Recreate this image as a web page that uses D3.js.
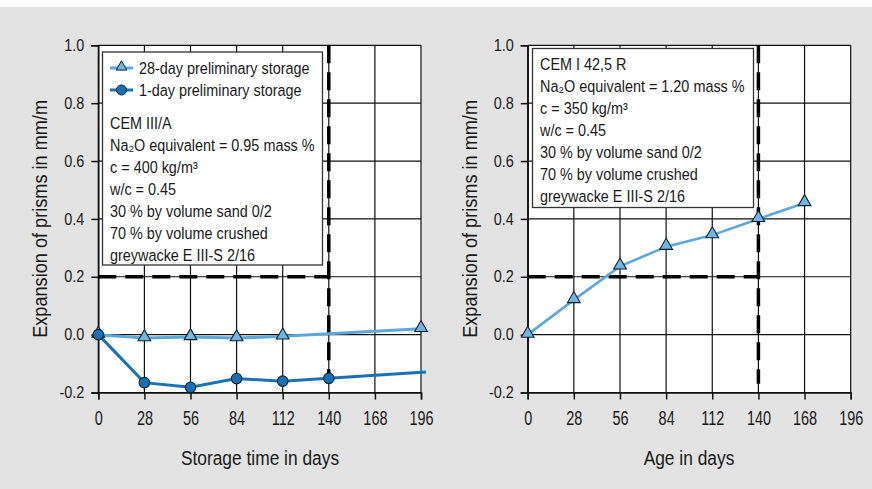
<!DOCTYPE html>
<html>
<head>
<meta charset="utf-8">
<script src="https://cdn.jsdelivr.net/npm/d3@7"></script>
<style>
  html, body { margin: 0; padding: 0; background: #e2e3e2; }
  svg { display: block; }
  text { font-family: "Liberation Sans", Arial, sans-serif; fill: #1a1a1a; }
</style>
</head>
<body>
<svg id="chart" width="872" height="489"></svg>
<script>
// Storage / age in days
const xTicks = [0, 28, 56, 84, 112, 140, 168, 196];
const yTicks = [-0.2, 0.0, 0.2, 0.4, 0.6, 0.8, 1.0];
const yTickLabels = ["-0.2", "0.0", "0.2", "0.4", "0.6", "0.8", "1.0"];

// Left panel: CEM III/A, two preliminary storage regimes
const storage28Days = [0, 28, 56, 84, 112, 196];
const storage28Values = [0.0, -0.012, -0.008, -0.012, -0.006, 0.02];
const storage1Days = [0, 28, 56, 84, 112, 140];
const storage1Values = [0.0, -0.166, -0.182, -0.152, -0.161, -0.151];
const storage1TailDay = 199;
const storage1TailValue = -0.129;
const storage28TailDay = 199;
const storage28TailValue = 0.021;

// Right panel: CEM I 42,5 R
const ageDays = [0, 28, 56, 84, 112, 140, 168];
const ageValues = [0.0, 0.12, 0.236, 0.304, 0.344, 0.40, 0.455];

// Limit value and test duration
const limitValue = 0.2;
const limitDay = 140;

const legendLabels = ["28-day preliminary storage", "1-day preliminary storage"];
const leftNotes = ["CEM III/A", "Na₂O equivalent = 0.95 mass %", "c = 400 kg/m³", "w/c = 0.45",
  "30 % by volume sand 0/2", "70 % by volume crushed", "greywacke E III-S 2/16"];
const rightNotes = ["CEM I 42,5 R", "Na₂O equivalent = 1.20 mass %", "c = 350 kg/m³", "w/c = 0.45",
  "30 % by volume sand 0/2", "70 % by volume crushed", "greywacke E III-S 2/16"];

const yTitle = "Expansion of prisms in mm/m";
const leftXTitle = "Storage time in days";
const rightXTitle = "Age in days";

const colLight = "#5ba8da";
const colDark = "#1a72b6";
const markerStroke = "#10202e";
// horizontal squeeze per label kind, for a condensed look
const squeeze = { xtick: 0.74, ytick: 0.9, note: 0.885, xtitle: 0.89, ytitle: 0.93 };

const svg = d3.select("#chart");
svg.append("rect").attr("x", 0).attr("y", 0).attr("width", 872).attr("height", 489).attr("fill", "#e2e3e2");
svg.append("rect").attr("x", 0).attr("y", 0).attr("width", 872).attr("height", 7).attr("fill", "#ffffff");

const yRange = [392.5, 45.3];

function writeNote(g, x, y, s) {
  g.append("text").attr("class", "note").attr("x", x).attr("y", y)
    .attr("font-size", 16.3).attr("dominant-baseline", "central").text(s);
}

function panel(x0, x1, xTitle, titleX) {
  const x = d3.scaleLinear().domain([0, 196]).range([x0, x1]);
  const y = d3.scaleLinear().domain([-0.2, 1.0]).range(yRange);
  const g = svg.append("g");

  g.append("rect").attr("x", x0).attr("y", yRange[1]).attr("width", x1 - x0).attr("height", yRange[0] - yRange[1])
    .attr("fill", "#ffffff");

  // grid
  g.append("g").selectAll("line").data(xTicks).join("line")
    .attr("x1", d => x(d)).attr("x2", d => x(d)).attr("y1", yRange[0]).attr("y2", yRange[1])
    .attr("stroke", "#111").attr("stroke-width", 1.2);
  g.append("g").selectAll("line").data(yTicks).join("line")
    .attr("y1", d => y(d)).attr("y2", d => y(d)).attr("x1", x0).attr("x2", x1)
    .attr("stroke", "#111").attr("stroke-width", 1.2);

  // axes
  const ax = g.append("g").attr("transform", `translate(0,${yRange[0]})`)
    .call(d3.axisBottom(x).tickValues(xTicks).tickSize(7).tickPadding(12).tickFormat(d3.format("d")));
  ax.select(".domain").attr("stroke", "#111").attr("stroke-width", 1.5);
  ax.selectAll(".tick line").attr("stroke", "#111").attr("stroke-width", 1.5);
  ax.selectAll(".tick text").attr("class", "xtick").attr("font-size", 19.5).attr("font-family", null).attr("fill", "#1a1a1a");

  const ay = g.append("g").attr("transform", `translate(${x0},0)`)
    .call(d3.axisLeft(y).tickValues(yTicks).tickSize(7).tickPadding(7).tickFormat((d, i) => yTickLabels[i]));
  ay.select(".domain").attr("stroke", "#111").attr("stroke-width", 1.5);
  ay.selectAll(".tick line").attr("stroke", "#111").attr("stroke-width", 1.5);
  ay.selectAll(".tick text").attr("class", "ytick").attr("font-size", 16).attr("font-family", null).attr("fill", "#1a1a1a");

  g.append("text").attr("class", "xtitle").attr("x", titleX).attr("y", 465).attr("text-anchor", "middle")
    .attr("font-size", 19.5).text(xTitle);
  g.append("text").attr("class", "ytitle")
    .attr("transform", `translate(${x0 - 58},${(yRange[0] + yRange[1]) / 2}) rotate(-90)`)
    .attr("text-anchor", "middle").attr("dominant-baseline", "central").attr("font-size", 19.5).text(yTitle);

  return { g, x, y };
}

function limits(p, bottomValue) {
  const dash = { "stroke": "#000", "stroke-width": 3.5, "stroke-dasharray": "18,9" };
  const h = p.g.append("line").attr("x1", p.x(0)).attr("x2", p.x(limitDay))
    .attr("y1", p.y(limitValue)).attr("y2", p.y(limitValue));
  const v = p.g.append("line").attr("x1", p.x(limitDay)).attr("x2", p.x(limitDay))
    .attr("y1", p.y(1.0)).attr("y2", p.y(bottomValue));
  [h, v].forEach(l => Object.entries(dash).forEach(([k, val]) => l.attr(k, val)));
}

function triangles(p, xs, ys) {
  const sym = d3.symbol().type(d3.symbolTriangle).size(70);
  p.g.append("g").selectAll("path").data(xs.map((d, i) => [d, ys[i]])).join("path")
    .attr("d", sym).attr("transform", d => `translate(${p.x(d[0])},${p.y(d[1]) - 1})`)
    .attr("fill", "#6fb6e2").attr("stroke", markerStroke).attr("stroke-width", 1.1);
}

function circles(p, xs, ys) {
  p.g.append("g").selectAll("circle").data(xs.map((d, i) => [d, ys[i]])).join("circle")
    .attr("cx", d => p.x(d[0])).attr("cy", d => p.y(d[1])).attr("r", 5.3)
    .attr("fill", "#1670b3").attr("stroke", markerStroke).attr("stroke-width", 1.1);
}

function notes(p, bx, by, bw, bh, lines, tx, ty0, step) {
  p.g.append("rect").attr("x", bx).attr("y", by).attr("width", bw).attr("height", bh)
    .attr("fill", "#fff").attr("stroke", "#333").attr("stroke-width", 1.3);
  lines.forEach((s, i) => writeNote(p.g, tx, ty0 + i * step, s));
}

// ---- Left panel ----
const L = panel(98.3, 421, leftXTitle, 260);
limits(L, -0.151);
notes(L, 102.5, 52, 220, 213, leftNotes, 110, 123, 22);

// legend
const lg = L.g.append("g");
[[68, colLight, "tri"], [90, colDark, "dot"]].forEach(([yy, c, m], i) => {
  lg.append("line").attr("x1", 110).attr("x2", 133).attr("y1", yy).attr("y2", yy)
    .attr("stroke", c).attr("stroke-width", 3);
  if (m === "tri") {
    lg.append("path").attr("d", d3.symbol().type(d3.symbolTriangle).size(50)())
      .attr("transform", `translate(121.5,${yy - 1})`).attr("fill", "#6fb6e2").attr("stroke", markerStroke);
  } else {
    lg.append("circle").attr("cx", 121.5).attr("cy", yy).attr("r", 5)
      .attr("fill", "#1670b3").attr("stroke", markerStroke);
  }
  lg.append("text").attr("class", "note").attr("x", 139).attr("y", yy).attr("dominant-baseline", "central")
    .attr("font-size", 16.3).text(legendLabels[i]);
});

const line = p => d3.line().x(d => p.x(d[0])).y(d => p.y(d[1]));
const s28 = storage28Days.map((d, i) => [d, storage28Values[i]]).concat([[storage28TailDay, storage28TailValue]]);
const s1 = storage1Days.map((d, i) => [d, storage1Values[i]]).concat([[storage1TailDay, storage1TailValue]]);
L.g.append("path").attr("d", line(L)(s28)).attr("fill", "none").attr("stroke", colLight).attr("stroke-width", 3);
L.g.append("path").attr("d", line(L)(s1)).attr("fill", "none").attr("stroke", colDark).attr("stroke-width", 3);
triangles(L, storage28Days, storage28Values);
circles(L, storage1Days, storage1Values);

// ---- Right panel ----
const R = panel(527.7, 850.7, rightXTitle, 689);
limits(R, -0.17);
notes(R, 532.5, 48.5, 221, 159, rightNotes, 540, 64, 22);
R.g.append("path").attr("d", line(R)(ageDays.map((d, i) => [d, ageValues[i]])))
  .attr("fill", "none").attr("stroke", colLight).attr("stroke-width", 2.6);
triangles(R, ageDays, ageValues);

// squeeze labels horizontally
Object.entries(squeeze).forEach(([cls, k]) => {
  svg.selectAll("text." + cls).each(function () {
    const w = this.getComputedTextLength();
    d3.select(this).attr("textLength", w * k).attr("lengthAdjust", "spacingAndGlyphs");
  });
});
</script>
</body>
</html>
